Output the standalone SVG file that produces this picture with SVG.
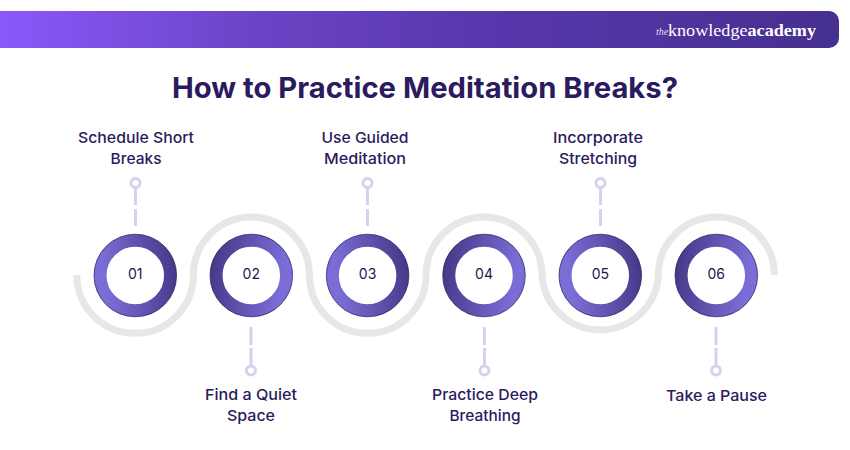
<svg xmlns="http://www.w3.org/2000/svg" width="850" height="450" viewBox="0 0 850 450">
<style>
text{font-family:"Inter","Noto Sans","Liberation Sans",sans-serif;fill:#2b1a5e}
.l{font-size:15px;font-weight:500;text-anchor:middle}
.n{font-size:14px;font-weight:400;text-anchor:middle;fill:#1f1450}
.r{fill:none;stroke:url(#gr);stroke-width:12.5}
.r2{fill:none;stroke:url(#gl);stroke-width:12.5}
.e{fill:none;stroke:#221a5c;stroke-width:.7}
.c{stroke:#d6d1f0;stroke-width:3;fill:none}
.d{fill:#fff;stroke:#d6d1f0;stroke-width:3}
.logo{font-family:"Liberation Serif",serif;fill:#fff}
</style>
<defs>
<linearGradient id="bar" x1="0" x2="1" y1="0" y2="0"><stop offset="0" stop-color="#8a58fb"/><stop offset=".3" stop-color="#6c44c6"/><stop offset=".6" stop-color="#5637ab"/><stop offset="1" stop-color="#46308f"/></linearGradient>
<linearGradient id="gr" x1="0" x2="1" y1="0.15" y2="0"><stop offset="0" stop-color="#7a6dd6"/><stop offset="1" stop-color="#483a8a"/></linearGradient>
<linearGradient id="gl" x1="0" x2="1" y1="0" y2="0.15"><stop offset="0" stop-color="#483a8a"/><stop offset="1" stop-color="#7a6dd6"/></linearGradient>
</defs>
<g id="header">
<path d="M0 11H829a10 10 0 0 1 10 10V38a10 10 0 0 1-10 10H0Z" fill="url(#bar)"/>
<text class="logo" x="656" y="35" font-size="10" font-style="italic" opacity=".8">the</text>
<text class="logo" x="668" y="36" font-size="17.5" textLength="148" lengthAdjust="spacingAndGlyphs">knowledge<tspan font-weight="700">academy</tspan></text>
</g>
<text id="title" x="425" y="98" font-size="28.500" font-weight="700" text-anchor="middle" textLength="506" lengthAdjust="spacingAndGlyphs" fill="#261a5c">How to Practice Meditation Breaks?</text>
<g id="connectors">
<path d="M76.800 275A58.300 58.300 0 0 0 193.400 275A58 58 0 0 1 309.400 275A58.300 58.300 0 0 0 426 275A58 58 0 0 1 542 275A58.300 58.300 0 0 0 658.400 275A58 58 0 0 1 774.400 275" fill="none" stroke="#e7e7e7" stroke-width="7"/>
<path class="c" d="M135.500 187V205M135.500 209V226"/>
<path class="c" d="M367.500 187V205M367.500 209V226"/>
<path class="c" d="M600.500 187V205M600.500 209V226"/>
<path class="c" d="M251 327V345M251 348V365"/>
<path class="c" d="M484.500 327V345M484.500 348V365"/>
<path class="c" d="M716 327V345M716 348V365"/>
<circle class="d" cx="135.500" cy="183" r="4.500"/>
<circle class="d" cx="367.500" cy="183" r="4.500"/>
<circle class="d" cx="600.500" cy="183" r="4.500"/>
<circle class="d" cx="251" cy="370.500" r="4.500"/>
<circle class="d" cx="484.500" cy="370.500" r="4.500"/>
<circle class="d" cx="716" cy="370.500" r="4.500"/>
</g>
<g id="n1"><circle class="r" cx="135.300" cy="275.500" r="35"/><circle class="e" cx="135.300" cy="275.500" r="41.300"/><text class="n" x="135.300" y="279">01</text><text class="l" x="136" y="142.500" textLength="116" lengthAdjust="spacingAndGlyphs">Schedule Short</text><text class="l" x="136" y="163.500" textLength="51" lengthAdjust="spacingAndGlyphs">Breaks</text></g>
<g id="n2"><circle class="r2" cx="251.300" cy="275.500" r="35"/><circle class="e" cx="251.300" cy="275.500" r="41.300"/><text class="n" x="251.300" y="279">02</text><text class="l" x="251" y="399.500" textLength="92" lengthAdjust="spacingAndGlyphs">Find a Quiet</text><text class="l" x="251" y="420.500" textLength="48" lengthAdjust="spacingAndGlyphs">Space</text></g>
<g id="n3"><circle class="r" cx="367.600" cy="275.500" r="35"/><circle class="e" cx="367.600" cy="275.500" r="41.300"/><text class="n" x="367.600" y="279">03</text><text class="l" x="365" y="142.500" textLength="87" lengthAdjust="spacingAndGlyphs">Use Guided</text><text class="l" x="365" y="163.500" textLength="82" lengthAdjust="spacingAndGlyphs">Meditation</text></g>
<g id="n4"><circle class="r2" cx="484" cy="275.500" r="35"/><circle class="e" cx="484" cy="275.500" r="41.300"/><text class="n" x="484" y="279">04</text><text class="l" x="485" y="399.500" textLength="106" lengthAdjust="spacingAndGlyphs">Practice Deep</text><text class="l" x="485" y="420.500" textLength="71" lengthAdjust="spacingAndGlyphs">Breathing</text></g>
<g id="n5"><circle class="r" cx="600.300" cy="275.500" r="35"/><circle class="e" cx="600.300" cy="275.500" r="41.300"/><text class="n" x="600.300" y="279">05</text><text class="l" x="598" y="142.500" textLength="90" lengthAdjust="spacingAndGlyphs">Incorporate</text><text class="l" x="598" y="163.500" textLength="78" lengthAdjust="spacingAndGlyphs">Stretching</text></g>
<g id="n6"><circle class="r2" cx="716.300" cy="275.500" r="35"/><circle class="e" cx="716.300" cy="275.500" r="41.300"/><text class="n" x="716.300" y="279">06</text><text class="l" x="716.500" y="400.500" textLength="101" lengthAdjust="spacingAndGlyphs">Take a Pause</text></g>
</svg>
